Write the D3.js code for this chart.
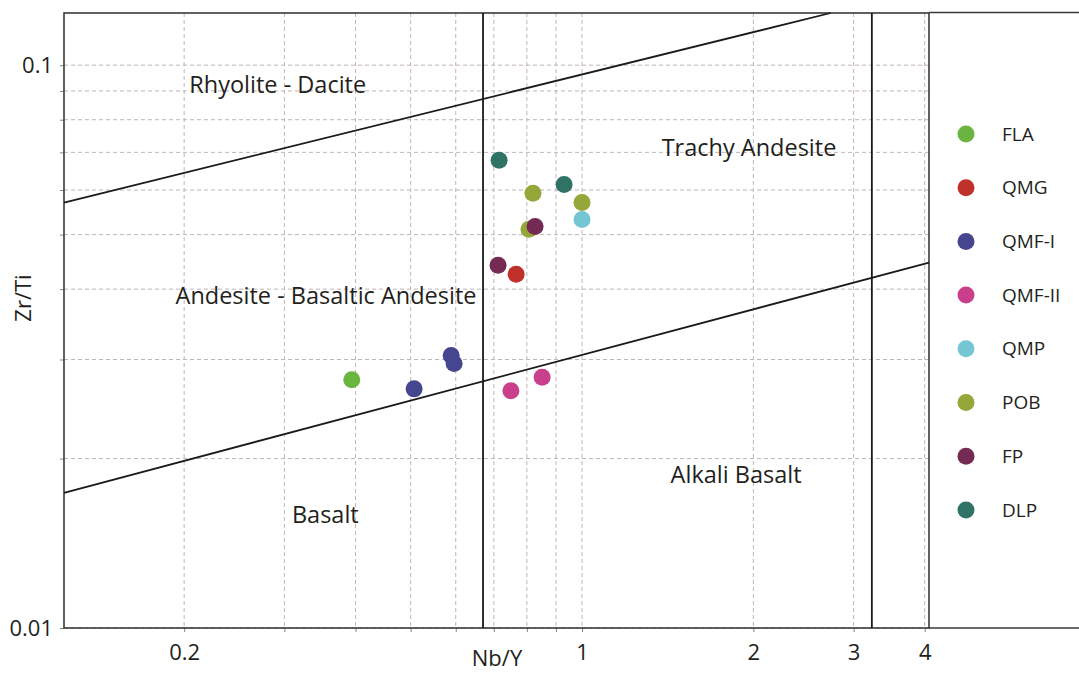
<!DOCTYPE html>
<html>
<head>
<meta charset="utf-8">
<script src="https://cdn.jsdelivr.net/npm/d3@7"></script>
<style>
  body { margin: 0; background: #fff; }
  svg text { font-family: "Open Sans", "Noto Sans", sans-serif; fill: #231f20; }
</style>
</head>
<body>
<svg id="chart" width="1079" height="674"></svg>
<script>
// rock groups shown in the legend
const groups = ["FLA", "QMG", "QMF-I", "QMF-II", "QMP", "POB", "FP", "DLP"];
const groupColors = ["#69b53f", "#c1312c", "#46458f", "#c93f8c", "#74c6d4", "#95a73a", "#742a52", "#2f7367"];

// samples (draw order matters a bit where dots overlap)
const sampleGroup = ["FLA", "QMF-I", "QMF-I", "QMF-I", "QMF-II", "QMF-II", "QMG", "QMP",
                     "POB", "POB", "POB", "FP", "FP", "DLP", "DLP"];
const sampleNbY   = [0.394, 0.507, 0.589, 0.596, 0.750, 0.851, 0.766, 1.0,
                     0.820, 1.0, 0.807, 0.827, 0.712, 0.715, 0.930];
const sampleZrTi  = [0.0276, 0.0266, 0.0305, 0.0295, 0.0264, 0.0279, 0.0425, 0.0532,
                     0.0592, 0.0570, 0.0511, 0.0517, 0.0441, 0.0678, 0.0614];

// field boundaries (Nb/Y, Zr/Ti), pairs of end points
const boundaryNbY  = [0.123, 2.735, 0.123, 4.07, 0.67, 0.67, 3.23, 3.23];
const boundaryZrTi = [0.0570, 0.1238, 0.01738, 0.0446, 0.01, 0.1238, 0.01, 0.1238];

// field names and where they sit
const fieldNames = ["Rhyolite - Dacite", "Trachy Andesite", "Andesite - Basaltic Andesite", "Basalt", "Alkali Basalt"];
const fieldNbY = [0.292, 1.965, 0.355, 0.354, 1.865];
const fieldZrTi = [0.0893, 0.0690, 0.0376, 0.01537, 0.0181];

// gridlines and labels
const xGrid = [0.2, 0.3, 0.4, 0.5, 0.6, 0.7, 0.8, 0.9, 1, 2, 3, 4];
const xLabels = [0.2, 1, 2, 3, 4];
const yGrid = [0.01, 0.02, 0.03, 0.04, 0.05, 0.06, 0.07, 0.08, 0.09, 0.1];
const yLabels = [0.01, 0.1];

const plotLeft = 64, plotRight = 929, plotTop = 13, plotBottom = 628;

const svg = d3.select("#chart");

const x = d3.scaleLog().domain([0.123, 4.07]).range([plotLeft, plotRight]);
const y = d3.scaleLog().domain([0.01, 0.1238]).range([plotBottom, plotTop]);

// dashed grid
const grid = svg.append("g")
  .attr("stroke", "#c2b4b4")
  .attr("stroke-width", 1)
  .attr("stroke-dasharray", "4,3");
grid.selectAll(".vg").data(xGrid).enter().append("line")
  .attr("x1", d => x(d)).attr("x2", d => x(d))
  .attr("y1", plotTop).attr("y2", plotBottom);
grid.selectAll(".hg").data(yGrid).enter().append("line")
  .attr("x1", plotLeft).attr("x2", plotRight)
  .attr("y1", d => y(d)).attr("y2", d => y(d));

// axes
const fmt = d => (d < 1 ? d3.format(".2~f")(d) : d3.format("d")(d));
const xAxis = svg.append("g")
  .attr("transform", "translate(0," + plotBottom + ")")
  .call(d3.axisBottom(x).tickValues(xGrid).tickSize(4).tickPadding(7)
    .tickFormat(d => xLabels.includes(d) ? fmt(d) : ""));
const yAxis = svg.append("g")
  .attr("transform", "translate(" + plotLeft + ",0)")
  .call(d3.axisLeft(y).tickValues(yGrid).tickSize(4).tickPadding(7)
    .tickFormat(d => yLabels.includes(d) ? fmt(d) : ""));
[xAxis, yAxis].forEach(a => {
  a.select(".domain").remove();
  a.selectAll(".tick line").attr("stroke", "#8a8484");
  a.selectAll(".tick text").style("font-size", "22px").attr("fill", "#231f20");
});
xAxis.selectAll(".tick text").attr("dy", "0.95em");

// frame and legend box
svg.append("rect")
  .attr("x", plotLeft).attr("y", plotTop)
  .attr("width", plotRight - plotLeft).attr("height", plotBottom - plotTop)
  .attr("fill", "none").attr("stroke", "#3a3a3a").attr("stroke-width", 1.6);
svg.append("line")
  .attr("x1", plotRight).attr("x2", 1079).attr("y1", 12.5).attr("y2", 12.5)
  .attr("stroke", "#3a3a3a").attr("stroke-width", 1.6);
svg.append("line")
  .attr("x1", plotRight).attr("x2", 1079).attr("y1", plotBottom).attr("y2", plotBottom)
  .attr("stroke", "#3a3a3a").attr("stroke-width", 1.6);

// field boundaries
const lines = d3.range(0, boundaryNbY.length, 2);
svg.append("g").selectAll("line").data(lines).enter().append("line")
  .attr("x1", i => x(boundaryNbY[i])).attr("y1", i => y(boundaryZrTi[i]))
  .attr("x2", i => x(boundaryNbY[i + 1])).attr("y2", i => y(boundaryZrTi[i + 1]))
  .attr("stroke", "#1a1a1a").attr("stroke-width", 1.8);

// field names
svg.append("g").selectAll("text").data(fieldNames).enter().append("text")
  .attr("x", (d, i) => x(fieldNbY[i]))
  .attr("y", (d, i) => y(fieldZrTi[i]))
  .attr("text-anchor", "middle")
  .style("font-size", "23.5px")
  .text(d => d);

// axis titles
svg.append("text")
  .attr("x", 497).attr("y", 666)
  .attr("text-anchor", "middle")
  .style("font-size", "22px")
  .text("Nb/Y");
svg.append("text")
  .attr("transform", "translate(31,298)rotate(-90)")
  .attr("text-anchor", "middle")
  .style("font-size", "22px")
  .text("Zr/Ti");

// samples
const color = d3.scaleOrdinal().domain(groups).range(groupColors);
svg.append("g").selectAll("circle").data(sampleGroup).enter().append("circle")
  .attr("cx", (d, i) => x(sampleNbY[i]))
  .attr("cy", (d, i) => y(sampleZrTi[i]))
  .attr("r", 8.5)
  .attr("fill", d => color(d));

// legend
const legend = svg.append("g").selectAll("g").data(groups).enter().append("g")
  .attr("transform", (d, i) => "translate(966," + (134 + i * 53.7) + ")");
legend.append("circle").attr("r", 8.5).attr("fill", d => color(d));
legend.append("text")
  .attr("x", 36).attr("dy", "0.35em")
  .style("font-size", "19px")
  .text(d => d);
</script>
</body>
</html>
